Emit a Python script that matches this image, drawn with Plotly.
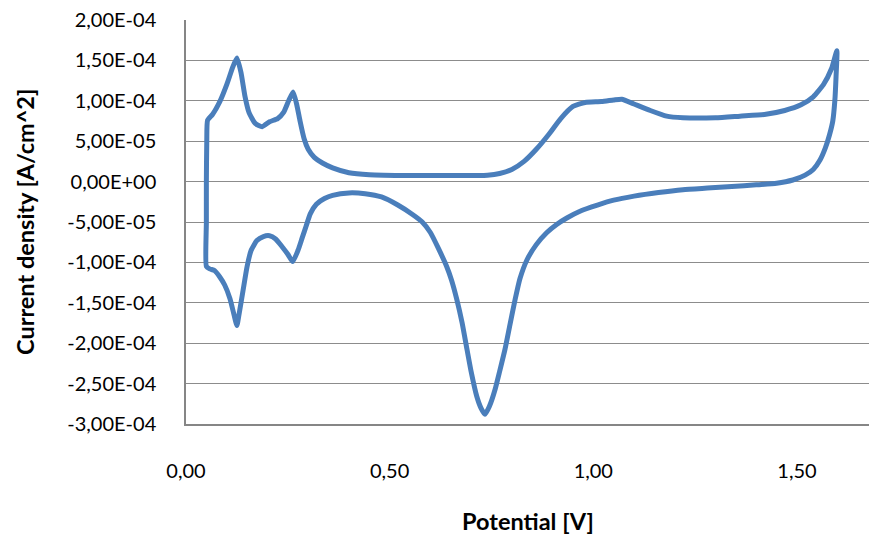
import plotly.graph_objects as go

# Potential [V] and current density [A/cm^2] (one CV loop)
potential = [
    0.050, 0.050, 0.050, 0.051, 0.053, 0.065, 0.083, 0.100, 0.115, 0.125,
    0.135, 0.145, 0.155, 0.170, 0.187, 0.205, 0.225, 0.240, 0.252, 0.263,
    0.272, 0.280, 0.290, 0.300, 0.315, 0.335, 0.360, 0.400, 0.450, 0.550,
    0.650, 0.740, 0.770, 0.800, 0.830, 0.860, 0.890, 0.920, 0.950, 0.980,
    1.020, 1.050, 1.070, 1.100, 1.140, 1.180, 1.220, 1.300, 1.360, 1.420,
    1.470, 1.510, 1.540, 1.565, 1.585, 1.598,
    1.596, 1.593, 1.588, 1.580, 1.570, 1.557, 1.540, 1.520, 1.490, 1.450,
    1.400, 1.340, 1.280, 1.220, 1.160, 1.100, 1.050, 1.010, 0.970, 0.935,
    0.910, 0.886, 0.860, 0.837, 0.820, 0.808, 0.795, 0.783, 0.770, 0.759,
    0.745, 0.734, 0.724, 0.714, 0.700, 0.690, 0.678, 0.665, 0.652, 0.640,
    0.620, 0.600, 0.580, 0.557, 0.520, 0.480, 0.440, 0.400, 0.360, 0.340,
    0.320, 0.305, 0.295, 0.285, 0.275, 0.262, 0.250, 0.235, 0.220, 0.205,
    0.190, 0.174, 0.160, 0.150, 0.140, 0.130, 0.125, 0.118, 0.108, 0.095,
    0.083, 0.070, 0.058, 0.050,
]
current = [
    -1.05e-4, -5.0e-5, 0.0, 5.0e-5, 7.6e-5, 8.3e-5, 9.9e-5, 1.2e-4, 1.42e-4, 1.53e-4,
    1.35e-4, 1.05e-4, 8.5e-5, 7.2e-5, 6.8e-5, 7.4e-5, 7.8e-5, 8.6e-5, 1.0e-4, 1.11e-4,
    9.5e-5, 7.5e-5, 5.3e-5, 4.0e-5, 3.0e-5, 2.3e-5, 1.7e-5, 1.1e-5, 8.5e-6, 7.5e-6,
    7.5e-6, 8.0e-6, 1.0e-5, 1.5e-5, 2.5e-5, 4.0e-5, 5.8e-5, 7.8e-5, 9.3e-5, 9.8e-5,
    9.9e-5, 1.01e-4, 1.02e-4, 9.6e-5, 8.8e-5, 8.1e-5, 7.9e-5, 7.9e-5, 8.1e-5, 8.3e-5,
    8.8e-5, 9.5e-5, 1.05e-4, 1.2e-4, 1.4e-4, 1.62e-4,
    1.3e-4, 1.0e-4, 7.5e-5, 5.8e-5, 4.2e-5, 2.7e-5, 1.5e-5, 8.0e-6, 2.0e-6, -2.0e-6,
    -4.0e-6, -6.0e-6, -8.0e-6, -1.0e-5, -1.35e-5, -1.8e-5, -2.3e-5, -2.9e-5, -3.6e-5, -4.5e-5,
    -5.3e-5, -6.3e-5, -7.8e-5, -9.7e-5, -1.2e-4, -1.46e-4, -1.78e-4, -2.08e-4, -2.35e-4, -2.57e-4,
    -2.78e-4, -2.88e-4, -2.8e-4, -2.66e-4, -2.35e-4, -2.08e-4, -1.75e-4, -1.46e-4, -1.22e-4, -1.05e-4,
    -8.3e-5, -6.3e-5, -5.0e-5, -4.1e-5, -2.9e-5, -1.9e-5, -1.5e-5, -1.4e-5, -1.7e-5, -2.1e-5,
    -2.8e-5, -4.0e-5, -5.5e-5, -7.0e-5, -8.5e-5, -9.9e-5, -9.0e-5, -8.0e-5, -7.1e-5, -6.7e-5,
    -6.8e-5, -7.3e-5, -8.5e-5, -1.05e-4, -1.35e-4, -1.65e-4, -1.78e-4, -1.65e-4, -1.45e-4, -1.28e-4,
    -1.18e-4, -1.10e-4, -1.08e-4, -1.05e-4,
]

x_tick_vals = [0.0, 0.5, 1.0, 1.5]
x_tick_text = ["0,00", "0,50", "1,00", "1,50"]
y_tick_vals = [2e-4, 1.5e-4, 1e-4, 5e-5, 0, -5e-5, -1e-4, -1.5e-4, -2e-4, -2.5e-4, -3e-4]
y_tick_text = ["2,00E-04", "1,50E-04", "1,00E-04", "5,00E-05", "0,00E+00", "-5,00E-05",
               "-1,00E-04", "-1,50E-04", "-2,00E-04", "-2,50E-04", "-3,00E-04"]

x_title = "Potential [V]"
y_title = "Current density [A/cm^2]"

W, H = 869, 534
L, T, R, B = 186, 20, 0, 110

fig = go.Figure()
fig.add_trace(go.Scatter(
    x=potential, y=current, mode="lines",
    line=dict(color="#4A7EBB", width=5, shape="spline", smoothing=0.5),
    hoverinfo="skip", showlegend=False,
))

FAM = "Lato, 'Open Sans', sans-serif"
font = dict(family=FAM, size=20, color="#000000")
title_font = dict(family=FAM, size=23.5, color="#000000")

fig.update_layout(
    width=W, height=H,
    margin=dict(l=L, r=R, t=T, b=B, pad=0),
    paper_bgcolor="white", plot_bgcolor="white",
    font=font,
    xaxis=dict(
        range=[0, (W - L - R) / 407.3], tickvals=x_tick_vals, ticktext=x_tick_text,
        showgrid=False, zeroline=False, showline=True, linecolor="#868686", linewidth=1.5,
        ticks="", ticklabelstandoff=28, tickfont=font,
    ),
    yaxis=dict(
        range=[-3e-4, 2e-4], tickvals=y_tick_vals, ticktext=y_tick_text,
        showgrid=True, gridcolor="#8C8C8C", gridwidth=1.3, zeroline=False,
        showline=True, linecolor="#868686", linewidth=1.5,
        ticks="", ticklabelstandoff=24, tickfont=font,
    ),
    annotations=[
        dict(text="<b>" + x_title + "</b>", xref="paper", yref="paper", x=0.5, y=0,
             xanchor="center", yanchor="middle", yshift=-97, showarrow=False,
             font=title_font),
        dict(text="<b>" + y_title + "</b>", xref="paper", yref="paper", x=0, y=0.5,
             xanchor="center", yanchor="middle", xshift=-161, textangle=-90, showarrow=False,
             font=title_font),
    ],
)

fig.write_html("out.html")
